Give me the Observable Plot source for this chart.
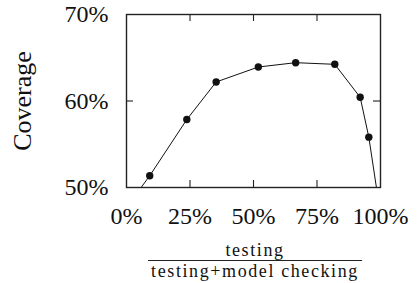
<!DOCTYPE html>
<html>
<head>
<meta charset="utf-8">
<script src="https://cdn.jsdelivr.net/npm/d3@7"></script>
<script src="https://cdn.jsdelivr.net/npm/@observablehq/plot@0.6"></script>
<style>
  html, body { margin: 0; padding: 0; background: #fff; }
  body { width: 417px; height: 283px; position: relative; overflow: hidden; font-family: "Liberation Serif", serif; color: #111; }
  #frac { position: absolute; left: 255px; top: 241px; transform: translateX(-50%); white-space: nowrap; text-align: center; font-family: "Liberation Serif", serif; font-size: 18px; letter-spacing: 1.6px; color: #111; }
  #frac .num { line-height: 18px; }
  #frac .bar { height: 0; border-top: 1.1px solid #222; margin: 1px -3px 1px -3px; }
  #frac .den { line-height: 18px; }
</style>
</head>
<body>
<div id="chart"></div>
<div id="frac"><div class="num">testing</div><div class="bar"></div><div class="den">testing+model checking</div></div>
<script>
const share    = [0, 0.0915, 0.2375, 0.353, 0.519, 0.666, 0.82, 0.92, 0.954, 1];
const coverage = [0.477, 0.5136, 0.5786, 0.622, 0.6393, 0.6443, 0.6424, 0.6043, 0.5582, 0.469];
const xTicks = [0, 0.25, 0.5, 0.75, 1];
const yTicks = [0.5, 0.6, 0.7];
const xTickLabels = ["0%", "25%", "50%", "75%", "100%"];
const yTickLabels = ["50%", "60%", "70%"];
const yLabel = "Coverage";

const data = share.map((s, i) => ({share: s, coverage: coverage[i]}));

const W = 417, H = 232, mL = 126, mR = 37, mT = 14, mB = 45;
const fw = W - mL - mR, fh = H - mT - mB;
const tick = 7;
const innerX = xTicks.slice(1, -1), innerY = yTicks.slice(1, -1);

const chart = Plot.plot({
  width: W, height: H,
  marginLeft: mL, marginRight: mR, marginTop: mT, marginBottom: mB,
  style: {fontFamily: "Liberation Serif, serif", fontSize: "24px", color: "#111", background: "#fff"},
  x: {domain: [0, 1]},
  y: {domain: [0.5, 0.7]},
  marks: [
    Plot.axisX(xTicks, {tickSize: 0, tickPadding: 19, tickFormat: (d, i) => xTickLabels[i], label: null, fontSize: 24}),
    Plot.axisY(yTicks, {tickSize: 0, tickPadding: 18, tickFormat: (d, i) => yTickLabels[i], label: null, fontSize: 24}),
    Plot.ruleX(innerX, {x: d => d, insetTop: fh - tick, stroke: "#222", strokeWidth: 1.1}),
    Plot.ruleX(innerX, {x: d => d, insetBottom: fh - tick, stroke: "#222", strokeWidth: 1.1}),
    Plot.ruleY(innerY, {y: d => d, insetRight: fw - tick, stroke: "#222", strokeWidth: 1.1}),
    Plot.ruleY(innerY, {y: d => d, insetLeft: fw - tick, stroke: "#222", strokeWidth: 1.1}),
    Plot.line(data, {x: "share", y: "coverage", stroke: "#111", strokeWidth: 1, clip: true}),
    Plot.dot(data, {x: "share", y: "coverage", r: 3.7, fill: "#111", stroke: "none", clip: true}),
    Plot.frame({stroke: "#222", strokeWidth: 1.4}),
    Plot.text([yLabel], {frameAnchor: "left", dx: -104, rotate: -90, textAnchor: "middle", text: d => d, fontSize: 26, fill: "#111"})
  ]
});
document.getElementById("chart").appendChild(chart);
</script>
</body>
</html>
